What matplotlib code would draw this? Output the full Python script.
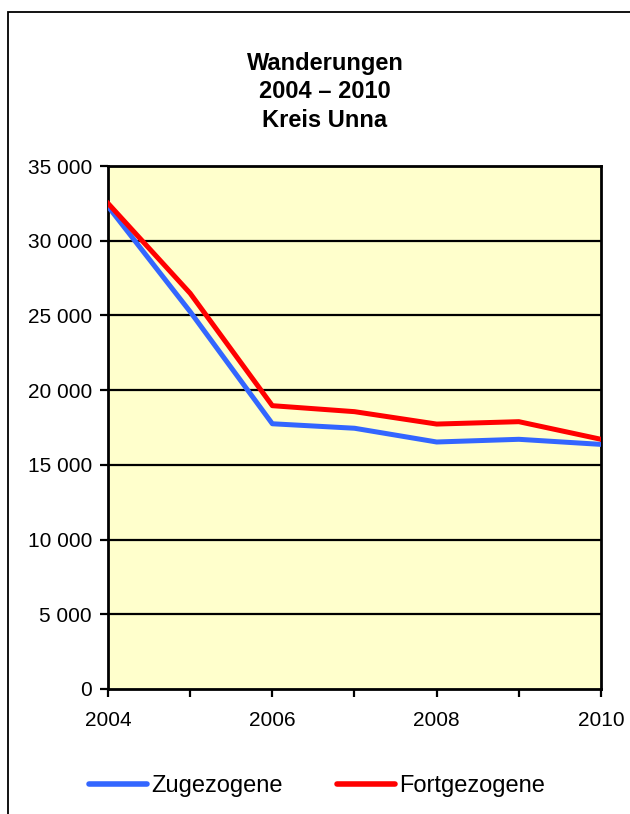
import matplotlib
matplotlib.use('Agg')
import matplotlib.pyplot as plt
from matplotlib.patches import Rectangle
from matplotlib.ticker import FuncFormatter

plt.rcParams['font.family'] = ['Liberation Sans', 'DejaVu Sans']

years = [2004, 2005, 2006, 2007, 2008, 2009, 2010]
zugezogene = [32300, 25250, 17750, 17450, 16530, 16710, 16370]
fortgezogene = [32500, 26480, 18960, 18560, 17730, 17890, 16710]
yticks = [0, 5000, 10000, 15000, 20000, 25000, 30000, 35000]
xlabels = [2004, 2006, 2008, 2010]

W, H = 630, 814
fig = plt.figure(figsize=(W / 100, H / 100), dpi=100)
fig.patch.set_facecolor('white')

# outer frame (runs off the right and bottom edges)
fig.patches.append(Rectangle((8 / W, -0.05), 1.2, 1 - 12 / H + 0.05, transform=fig.transFigure,
                             fill=False, edgecolor='black', linewidth=1.3, clip_on=False))

ax = fig.add_axes([108 / W, (H - 689) / H, (601 - 108) / W, (689 - 166) / H])
ax.set_facecolor('#FFFFCC')

for y in yticks[1:-1]:
    ax.axhline(y, color='black', linewidth=1.6, zorder=1)

ax.plot(years, zugezogene, color='#3366FF', linewidth=3.6, label='Zugezogene', zorder=3)
ax.plot(years, fortgezogene, color='#FF0000', linewidth=3.6, label='Fortgezogene', zorder=4)

ax.set_xlim(2004, 2010)
ax.set_ylim(0, 35000)
ax.set_yticks(yticks)
ax.yaxis.set_major_formatter(FuncFormatter(lambda v, p: f'{int(v):,}'.replace(',', ' ')))
ax.set_xticks(years)
ax.set_xticklabels([str(y) if y in xlabels else '' for y in years])
ax.tick_params(axis='both', direction='out', length=6, width=1.6, labelsize=15, colors='black')
ax.tick_params(axis='x', pad=10)
ax.tick_params(axis='y', pad=5.5)
for s in ax.spines.values():
    s.set_linewidth(2)
    s.set_color('black')

fig.text(325 / W, 1 - 92 / H, 'Wanderungen\n2004 – 2010\nKreis Unna', ha='center', va='center',
         fontsize=17, fontweight='bold', linespacing=1.32)

leg = fig.legend(loc='center', bbox_to_anchor=(317 / W, 1 - 786 / H), ncol=2, frameon=False,
                 fontsize=17, handlelength=2.45, handletextpad=0.17, columnspacing=2.3)
for l in leg.get_lines():
    l.set_linewidth(4)
    l.set_solid_capstyle('round')

fig.savefig('out.png', dpi=100)
